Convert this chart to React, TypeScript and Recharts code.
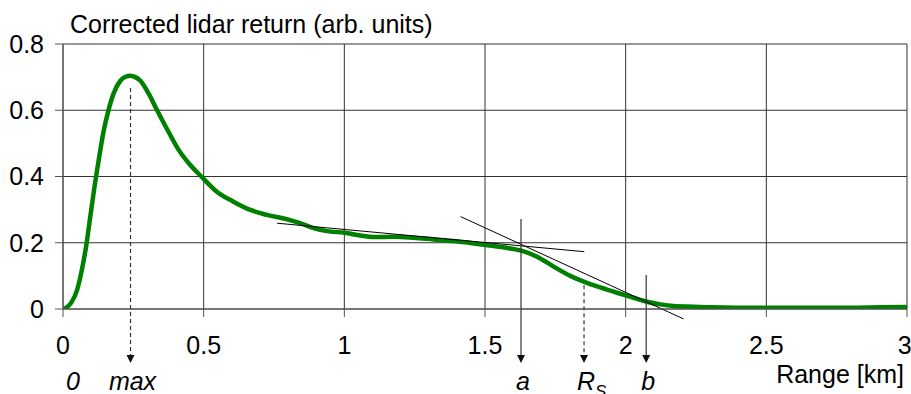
import { LineChart, Line, XAxis, YAxis, CartesianGrid, ReferenceLine, Label } from 'recharts';

const FONT = '"Liberation Sans", Arial, sans-serif';

const TITLE = 'Corrected lidar return (arb. units)';
const X_LABEL = 'Range [km]';

const xTicks = [0, 0.5, 1, 1.5, 2, 2.5, 3];
const yTicks = [0, 0.2, 0.4, 0.6, 0.8];

// range (km) and corrected return
const range = [
  0, 0.015, 0.03, 0.05, 0.067, 0.082, 0.097, 0.112, 0.127, 0.144, 0.162, 0.18, 0.204, 0.222, 0.239, 0.257,
  0.275, 0.304, 0.334, 0.375, 0.41, 0.447, 0.494, 0.547, 0.606, 0.666, 0.725, 0.796, 0.843, 0.891,
  0.938, 1.001, 1.057, 1.104, 1.175, 1.246, 1.317, 1.388, 1.46, 1.531, 1.58, 1.629, 1.685, 1.744,
  1.803, 1.853, 1.91, 1.969, 2.028, 2.076, 2.123, 2.17, 2.242, 2.3, 2.4, 2.5, 2.6, 2.7, 2.8, 2.9, 3.0,
];
const signal = [
  0, 0.006, 0.02, 0.057, 0.118, 0.188, 0.279, 0.369, 0.45, 0.535, 0.601, 0.651, 0.689, 0.701, 0.704, 0.7,
  0.689, 0.651, 0.601, 0.535, 0.482, 0.44, 0.398, 0.354, 0.324, 0.299, 0.284, 0.271, 0.259, 0.244,
  0.235, 0.23, 0.222, 0.217, 0.218, 0.215, 0.21, 0.205, 0.198, 0.19, 0.184, 0.176, 0.158, 0.128,
  0.1, 0.082, 0.065, 0.049, 0.034, 0.022, 0.014, 0.009, 0.007, 0.005, 0.004, 0.004, 0.004, 0.004, 0.004, 0.005, 0.006,
];

// tangent lines [x1, y1, x2, y2]
const tangentFlat = [0.761, 0.259, 1.853, 0.173];
const tangentSteep = [1.413, 0.279, 2.206, -0.03];

// marker arrows
const markerNames = ['max', 'a', 'R', 'b'];
const markerX = [0.24, 1.628, 1.852, 2.073];
const markerTop = [0.667, 0.272, 0.072, 0.103];
const markerDashed = [true, false, true, false];
const arrowTip = -0.163;

const data = range.map((r, i) => ({ r, v: signal[i] }));

const makeArrow = (name: string, dashed: boolean) => (p: any) => {
  const { x1, y1, x2, y2 } = p;
  const head = 8;
  return (
    <g>
      <line x1={x1} y1={y1} x2={x2} y2={y2 - head} stroke="#333" strokeWidth={1.2} strokeDasharray={dashed ? '4 3' : undefined} />
      <polygon points={`${x2 - 4},${y2 - head} ${x2 + 4},${y2 - head} ${x2},${y2}`} fill="#111" />
      {name === 'R' ? (
        <text x={x2 - 7} y={y2 + 27} fontSize={25} fontStyle="italic" fontFamily={FONT} fill="#000">
          R<tspan dy={7} fontSize={17}>S</tspan>
        </text>
      ) : (
        <text x={x2 + 2} y={y2 + 27} fontSize={25} fontStyle="italic" fontFamily={FONT} fill="#000" textAnchor="middle">
          {name}
        </text>
      )}
    </g>
  );
};

const ZeroLabel = (p: any) => (
  <text x={p.x2 + 10} y={p.y2 + 27} fontSize={25} fontStyle="italic" fontFamily={FONT} fill="#000" textAnchor="middle">
    0
  </text>
);

const TitleLabel = (props: any) => {
  const vb = props.viewBox;
  return (
    <text x={vb.x + vb.width + 7} y={vb.y - 11} fontSize={25} fontFamily={FONT} fill="#000">
      {TITLE}
    </text>
  );
};

const RangeLabel = (props: any) => {
  const vb = props.viewBox;
  return (
    <text x={vb.x + vb.width - 3} y={vb.y + 74} fontSize={25} fontFamily={FONT} fill="#000" textAnchor="end">
      {X_LABEL}
    </text>
  );
};

const tickStyle = { fontSize: 25, fontFamily: FONT, fill: '#000' };

export default function App() {
  return (
    <div style={{ width: 911, height: 394, background: '#fff' }}>
      <style>{'body{margin:0}'}</style>
      <LineChart width={911} height={394} data={data} margin={{ top: 44, right: 4, bottom: 0, left: 0 }}>
        <CartesianGrid stroke="#333" strokeWidth={1} />
        <XAxis
          dataKey="r"
          type="number"
          domain={[0, 3]}
          ticks={xTicks}
          height={85}
          tickSize={8}
          tickMargin={19}
          tick={tickStyle}
          stroke="#555"
          allowDataOverflow
        >
          <Label content={RangeLabel} />
        </XAxis>
        <YAxis
          type="number"
          domain={[0, 0.8]}
          ticks={yTicks}
          width={63}
          tickSize={8}
          tickMargin={11}
          tick={tickStyle}
          stroke="#555"
          allowDataOverflow
        >
          <Label content={TitleLabel} />
        </YAxis>
        <Line type="monotone" dataKey="v" stroke="#008000" strokeWidth={4.5} dot={false} activeDot={false} isAnimationActive={false} />
        <ReferenceLine
          segment={[{ x: tangentFlat[0], y: tangentFlat[1] }, { x: tangentFlat[2], y: tangentFlat[3] }]}
          stroke="#000"
          strokeWidth={1}
          ifOverflow="visible"
        />
        <ReferenceLine
          segment={[{ x: tangentSteep[0], y: tangentSteep[1] }, { x: tangentSteep[2], y: tangentSteep[3] }]}
          stroke="#000"
          strokeWidth={1}
          ifOverflow="visible"
        />
        {markerNames.map((name, i) => (
          <ReferenceLine
            key={name}
            segment={[{ x: markerX[i], y: markerTop[i] }, { x: markerX[i], y: arrowTip }]}
            ifOverflow="visible"
            shape={makeArrow(name, markerDashed[i])}
          />
        ))}
        <ReferenceLine segment={[{ x: 0, y: 0 }, { x: 0, y: arrowTip }]} ifOverflow="visible" shape={ZeroLabel} />
      </LineChart>
    </div>
  );
}
